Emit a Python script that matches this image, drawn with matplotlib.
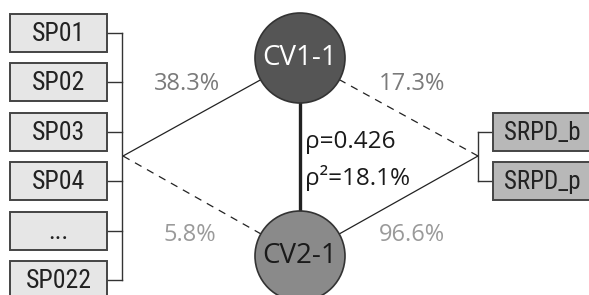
"""
Path diagram: predictor set -> canonical variates -> response set.
"""
import matplotlib.pyplot as plt
from matplotlib.patches import Circle, Rectangle

left_labels = ["SP01", "SP02", "SP03", "SP04", "...", "SP022"]
right_labels = ["SRPD_b", "SRPD_p"]
cv_labels = ["CV1-1", "CV2-1"]
# loadings shown on the links: left->CV1, left->CV2, right->CV1, right->CV2
link_pct = [38.3, 5.8, 17.3, 96.6]
rho = 0.426
rho_sq_pct = 18.1

W, H = 589, 295
fig = plt.figure(figsize=(W / 100, H / 100), dpi=100)
ax = fig.add_axes([0, 0, 1, 1])
ax.set_xlim(0, W)
ax.set_ylim(H, 0)
ax.axis("off")

txt_font = ["Open Sans", "DejaVu Sans"]
box_font = ["Roboto Condensed", "DejaVu Sans"]

box_h, pitch = 38, 49.4
edge = "#444444"

# left boxes and bracket
lx0, lx1, lbr = 10, 107, 122
ys = [14 + i * pitch for i in range(len(left_labels))]
for y, lab in zip(ys, left_labels):
    ax.add_patch(Rectangle((lx0, y), lx1 - lx0, box_h, fc="#e6e6e6", ec=edge, lw=1.4, zorder=3))
    ax.text((lx0 + lx1) / 2, y + box_h / 2 + 1, lab, ha="center", va="center",
            fontsize=18.5, family=box_font, stretch="condensed", color="#222222", zorder=4)
    ax.plot([lx1, lbr], [y + box_h / 2] * 2, color="#333333", lw=1.0)
ax.plot([lbr, lbr], [ys[0] + box_h / 2, ys[-1] + box_h / 2], color="#333333", lw=1.0)
left_pt = (lbr + 1, 156)

# right boxes and bracket
rx0, rbr = 493, 478
rys = [113 + i * pitch for i in range(len(right_labels))]
for y, lab in zip(rys, right_labels):
    ax.add_patch(Rectangle((rx0, y), 120, box_h, fc="#b8b8b8", ec=edge, lw=1.4, zorder=3))
    ax.text(rx0 + 11, y + box_h / 2 + 1, lab, ha="left", va="center",
            fontsize=18, family=box_font, stretch="condensed", color="#222222", zorder=4)
    ax.plot([rbr, rx0], [y + box_h / 2] * 2, color="#333333", lw=1.0)
ax.plot([rbr, rbr], [rys[0] + box_h / 2, rys[-1] + box_h / 2], color="#333333", lw=1.0)
right_pt = (rbr, 156)

# canonical variate circles
cx, r = 300, 45
cys = [58, 256]
ax.plot([cx, cx], cys, color="#222222", lw=2.4, zorder=1)
ax.plot([left_pt[0], cx], [left_pt[1], cys[0]], color="#222222", lw=0.9, zorder=1)
ax.plot([left_pt[0], cx], [left_pt[1], cys[1]], color="#222222", lw=0.9, ls=(0, (6, 5)), zorder=1)
ax.plot([right_pt[0], cx], [right_pt[1], cys[0]], color="#222222", lw=0.9, ls=(0, (6, 5)), zorder=1)
ax.plot([right_pt[0], cx], [right_pt[1], cys[1]], color="#222222", lw=0.9, zorder=1)

for cy, lab, fc, tc in zip(cys, cv_labels, ["#555555", "#8a8a8a"], ["white", "#1a1a1a"]):
    ax.add_patch(Circle((cx, cy), r, fc=fc, ec="#333333", lw=1.2, zorder=2))
    ax.text(cx, cy, lab, ha="center", va="center", fontsize=20, family=txt_font,
            color=tc, zorder=3)

# percentages on links
pct_pos = [(187, 84, "#7a7a7a"), (190, 235, "#9a9a9a"),
           (412, 84, "#7a7a7a"), (412, 235, "#9a9a9a")]
for (x, y, c), v in zip(pct_pos, link_pct):
    ax.text(x, y, f"{v}%", ha="center", va="center", fontsize=17,
            family=txt_font, color=c)

ax.text(305, 142, f"ρ={rho}", ha="left", va="center", fontsize=17.5,
        family=txt_font, color="#1a1a1a")
ax.text(305, 178, f"ρ²={rho_sq_pct}%", ha="left", va="center", fontsize=17.5,
        family=txt_font, color="#1a1a1a")

fig.savefig("out.png", dpi=100)
